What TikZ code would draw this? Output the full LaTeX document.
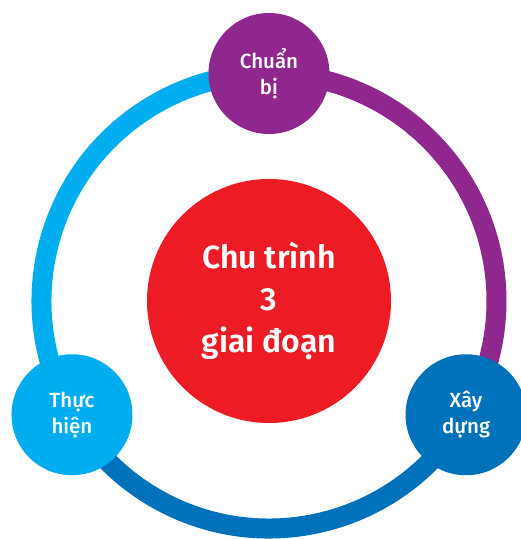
\documentclass[tikz,border=0pt]{standalone}
\usepackage{fontspec}
\setmainfont{Fira Sans}
\newfontfamily\medfont{Fira Sans Medium}
\newfontfamily\semifont{Fira Sans SemiBold}
\usetikzlibrary{backgrounds}
\definecolor{StageRed}{RGB}{237,28,36}
\definecolor{StagePurple}{RGB}{143,39,143}
\definecolor{StageBlue}{RGB}{0,114,188}
\definecolor{StageSky}{RGB}{0,174,239}
\begin{document}
\begin{tikzpicture}[x=1pt,y=1pt,
  st/.style={circle,minimum size=121pt,inner sep=0pt,text=white,align=center,
    font=\medfont\fontsize{20.5}{26}\selectfont},
  ring/.style={line width=20pt}
]
  \useasboundingbox (-269,-238) rectangle (252,301);
  \node[circle,fill=StageRed,minimum size=244pt,inner sep=0pt,text=white,align=center,
    font=\semifont\fontsize{32}{42}\selectfont] (ct) at (0,0) {Chu trình\\3\\giai đoạn};
  \node[st,fill=StagePurple] (cb) at (90:227.5) {Chuẩn\\bị};
  \node[st,fill=StageBlue] (xd) at (-30:227.5) {Xây\\dựng};
  \node[st,fill=StageSky] (th) at (210:227.5) {Thực\\hiện};
  \begin{scope}[on background layer]
    \draw[ring,StagePurple] (cb.center) arc[start angle=90,end angle=-30,radius=227.5];
    \draw[ring,StageBlue] (xd.center) arc[start angle=-30,end angle=-150,radius=227.5];
    \draw[ring,StageSky] (th.center) arc[start angle=210,end angle=90,radius=227.5];
  \end{scope}
\end{tikzpicture}
\end{document}
